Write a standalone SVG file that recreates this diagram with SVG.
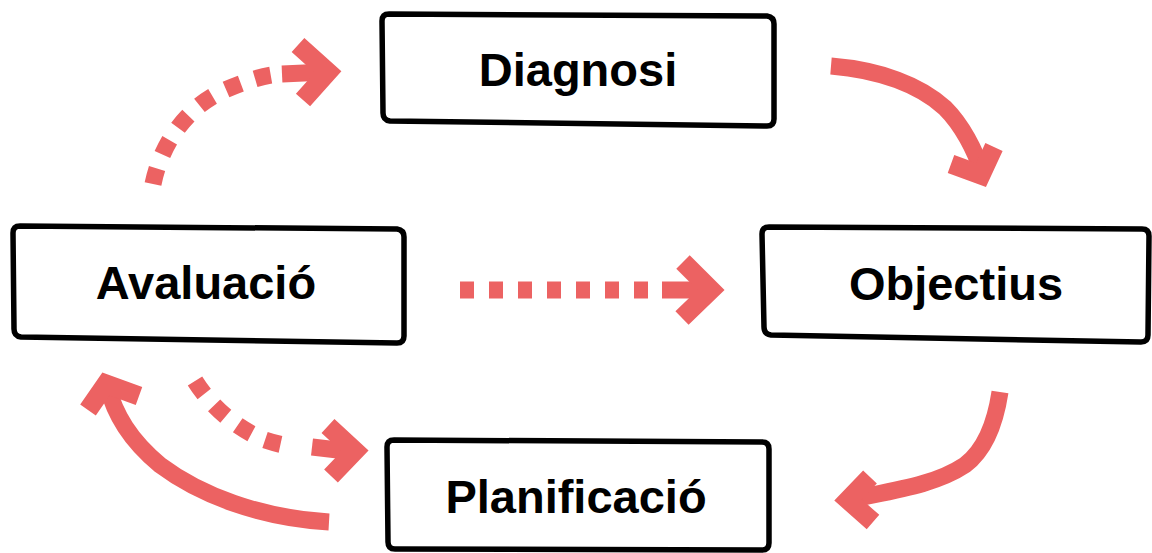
<svg xmlns="http://www.w3.org/2000/svg" width="1152" height="553" viewBox="0 0 1152 553">
<style>
.box{fill:#fff;stroke:#000;stroke-width:5.5;stroke-linejoin:round;stroke-linecap:round}
.lbl{font-family:"Liberation Sans",Arial,sans-serif;font-weight:bold;font-size:47px;fill:#000;text-anchor:middle}
.ln{fill:none;stroke:#EC6262;stroke-width:17;stroke-linejoin:miter;stroke-linecap:butt}
.hd{stroke-width:19}
.dash{stroke-dasharray:16 15}
</style>
<rect width="1152" height="553" fill="#fff"/>
<g id="connectors">
  <!-- Avaluacio -> Diagnosi (dashed) -->
  <path class="ln dash" d="M153 184 C162 140 190 105 225 90 C248 80 266 75 280 74"/>
  <path class="ln" d="M282 74 L326 72"/>
  <path class="ln hd" d="M298 45 L328 72 L303 100"/>
  <!-- Diagnosi -> Objectius -->
  <path class="ln" d="M831 66 C880 70 920 85 945 108 C962 125 975 150 982 172"/>
  <path class="ln hd" d="M951 164 L981 175 L994 147"/>
  <!-- Avaluacio -> Objectius (dashed) -->
  <path class="ln dash" d="M460 290 L657 290" style="stroke-dasharray:14 15"/>
  <path class="ln" d="M662 290 L712 290"/>
  <path class="ln hd" d="M683 262 L711 290 L682 318"/>
  <!-- Objectius -> Planificacio -->
  <path class="ln" d="M1000 392 C995 425 985 450 965 465 C935 485 895 490 848 500"/>
  <path class="ln hd" d="M870 477 L848 500 L873 522"/>
  <!-- Planificacio -> Avaluacio -->
  <path class="ln" d="M329 522 C260 518 200 495 160 465 C130 440 115 415 107 385"/>
  <path class="ln hd" d="M88 410 L106 384 L139 396"/>
  <!-- Avaluacio -> Planificacio (dashed) -->
  <path class="ln dash" d="M195 381 C210 405 235 428 265 440 C274 443 282 445 290 446"/>
  <path class="ln" d="M312 447 L355 452"/>
  <path class="ln hd" d="M328 426 L355 451 L331 476"/>
</g>
<g id="node-diagnosi">
  <path class="box" d="M389 14 L767 16 Q774 17 774 24 L774 119 Q774 126 767 126 L390 121 Q383 120 383 113 L382 21 Q382 14 389 14 Z"/>
  <text class="lbl" x="578" y="86">Diagnosi</text>
</g>
<g id="node-avaluacio">
  <path class="box" d="M20 226 L397 229 Q404 230 404 237 L404 336 Q404 343 397 343 L21 337 Q14 336 14 329 L13 233 Q13 226 20 226 Z"/>
  <text class="lbl" x="206" y="299">Avaluació</text>
</g>
<g id="node-objectius">
  <path class="box" d="M769 227 L1142 229 Q1149 229 1149 236 L1148 335 Q1148 342 1141 342 L771 335 Q764 334 764 327 L762 234 Q762 227 769 227 Z"/>
  <text class="lbl" x="956" y="300">Objectius</text>
</g>
<g id="node-planificacio">
  <path class="box" d="M394 440 L762 442 Q769 442 769 449 L769 543 Q769 550 762 550 L395 549 Q388 549 388 542 L387 447 Q387 440 394 440 Z"/>
  <text class="lbl" x="576" y="513">Planificació</text>
</g>
</svg>
